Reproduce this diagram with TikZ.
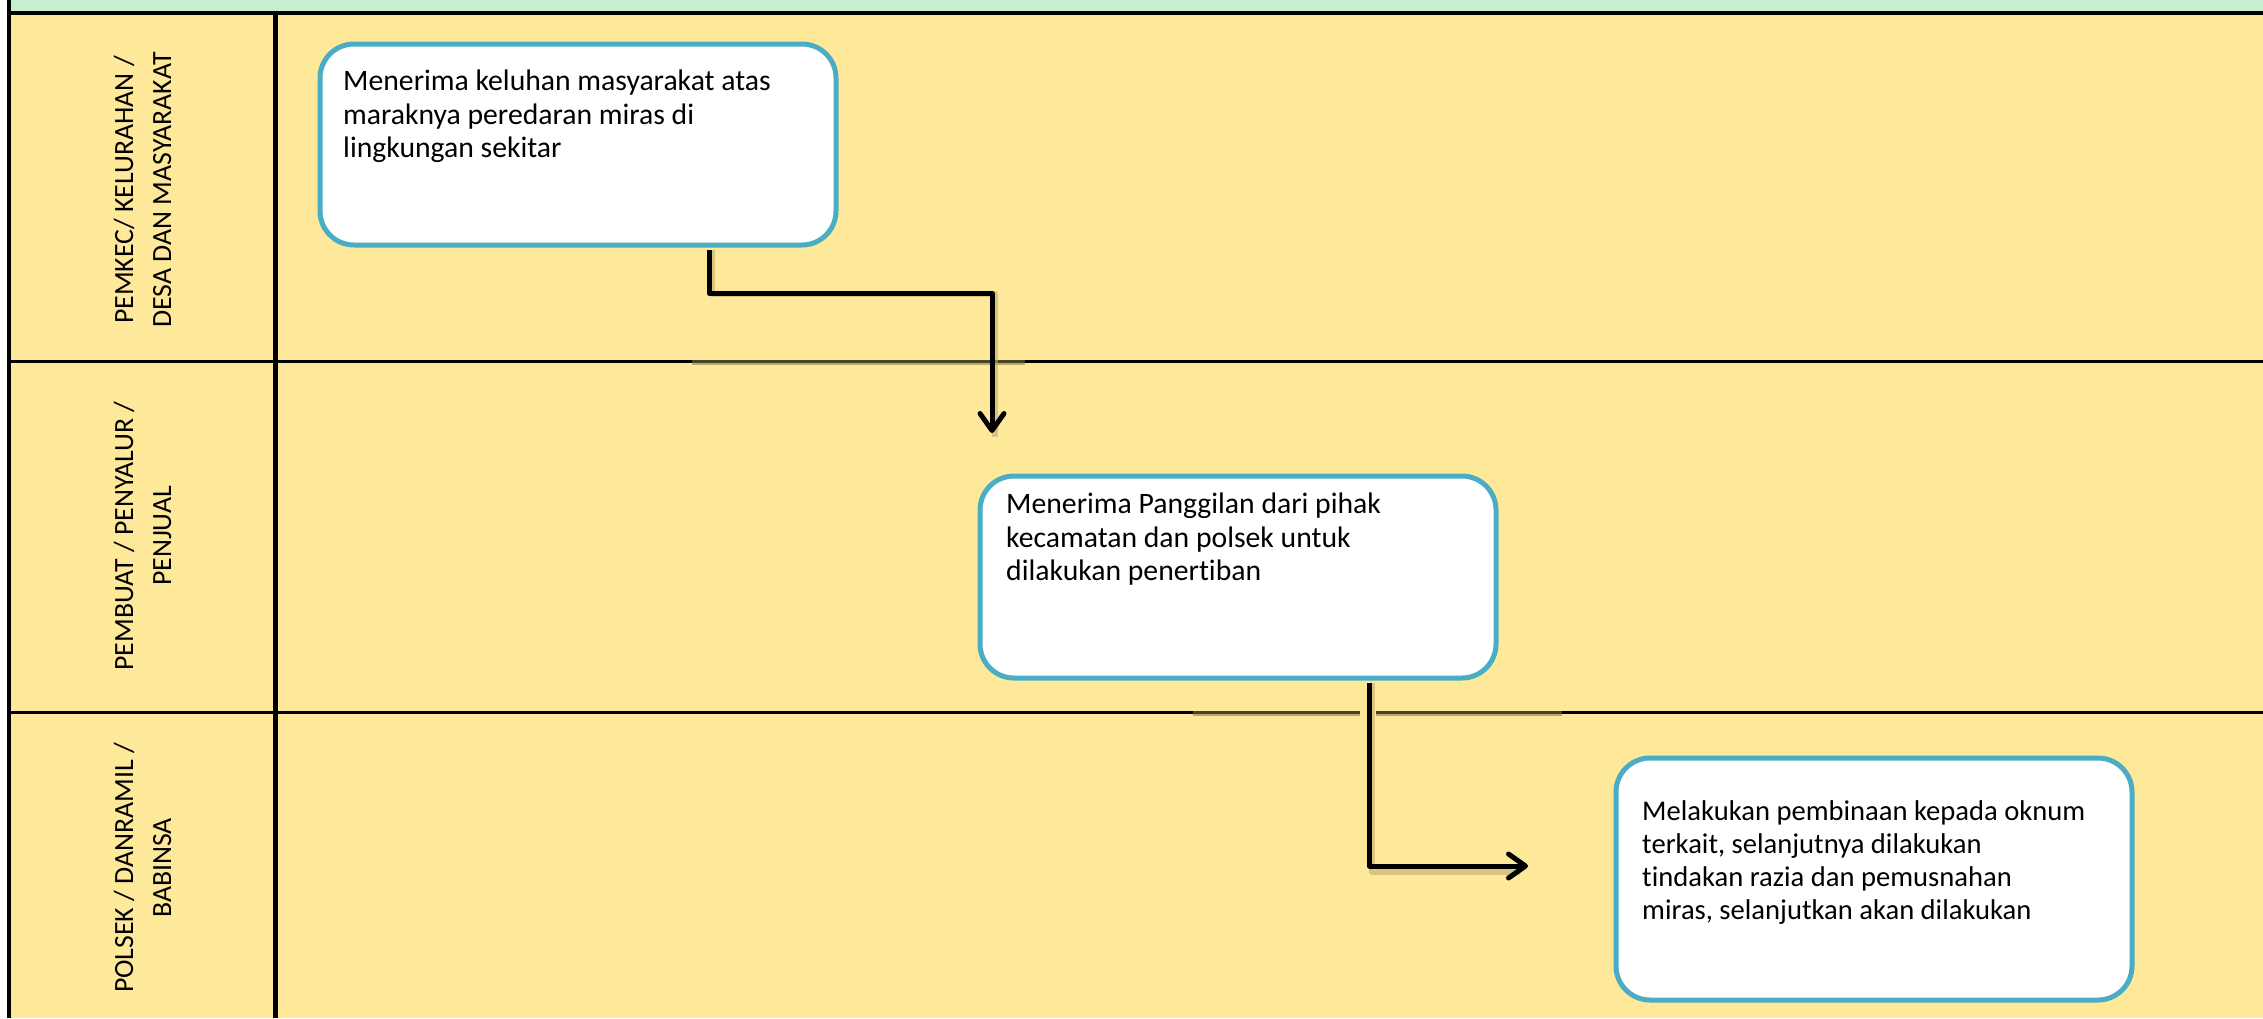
\documentclass[tikz,border=0pt]{standalone}
\usepackage{fontspec}
\setmainfont{Carlito}[Ligatures=NoCommon]
\usetikzlibrary{arrows.meta}
\definecolor{laneyellow}{HTML}{FEE99B}
\definecolor{topgreen}{HTML}{C6EFCE}
\definecolor{boxblue}{HTML}{4BACC6}
\definecolor{shadowc}{HTML}{BBA96A}
\definecolor{segc}{HTML}{4A4326}
\tikzset{
  procbox/.style={draw=boxblue, line width=5pt, fill=white, rounded corners=34pt,
    minimum width=516pt, inner sep=0pt, anchor=north west},
  boxtext/.style={anchor=north west, inner sep=0pt, align=left,
    font=\fontsize{29.7}{33.3}\selectfont},
  lanelabel/.style={rotate=90, align=center, inner sep=0pt,
    font=\fontsize{27.8}{38}\selectfont},
  flowarrow/.style={line width=5pt, line join=round,
    -{Straight Barb[length=17pt,width=24pt,round]}},
  flowshadow/.style={shadowc, opacity=0.55, line width=6pt, line join=round},
  laneline/.style={line width=3pt},
  segline/.style={segc, line width=3pt},
}
\begin{document}
\begin{tikzpicture}[x=1pt,y=-1pt]
\useasboundingbox (0,0) rectangle (2263,1018);
\fill[white] (0,0) rectangle (2263,1018);
\fill[laneyellow] (9,13) rectangle (2263,1018);
\fill[topgreen] (9,0) rectangle (2263,11);
% frame lines
\draw[line width=4pt] (7,13) -- (2263,13);
\draw[line width=4.5pt] (9,0) -- (9,1018);
\draw[line width=5.5pt] (275.5,13) -- (275.5,1018);
\draw[laneline] (9,361.5) -- (2263,361.5);
\draw[laneline] (9,712) -- (2263,712);
% shadowed segments of lane lines
\draw[laneyellow, line width=4pt] (692,361.5) -- (1025,361.5);
\draw[shadowc, line width=2pt] (692,364) -- (1025,364);
\draw[segline] (692,361.5) -- (1025,361.5);
\draw[laneyellow, line width=4pt] (1193,712) -- (1562,712);
\draw[shadowc, line width=2pt] (1193,714.5) -- (1360,714.5);
\draw[shadowc, line width=2pt] (1376,714.5) -- (1562,714.5);
\draw[segline] (1193,712) -- (1360,712);
\draw[segline] (1376,712) -- (1562,712);
% lane labels
\node[lanelabel] (l1) at (142.5,190) {PEMKEC/ KELURAHAN /\\DESA DAN MASYARAKAT};
\node[lanelabel] (l2) at (142.5,536) {PEMBUAT / PENYALUR /\\PENJUAL};
\node[lanelabel] (l3) at (142.5,868) {POLSEK / DANRAMIL /\\BABINSA};
% process boxes
\node[procbox, minimum height=201pt] (b1) at (317.5,41.5) {};
\node[procbox, minimum height=202pt] (b2) at (977.5,473.5) {};
\node[procbox, minimum height=242pt] (b3) at (1613.5,755.5) {};
\node[boxtext] (b1t) at (343,70) {Menerima keluhan masyarakat atas\\maraknya peredaran miras di\\lingkungan sekitar};
\node[boxtext] (b2t) at (1006,493) {Menerima Panggilan dari pihak\\kecamatan dan polsek untuk\\dilakukan penertiban};
\node[boxtext, font=\fontsize{28.6}{33.3}\selectfont] (b3t) at (1642,800) {Melakukan pembinaan kepada oknum\\terkait, selanjutnya dilakukan\\tindakan razia dan pemusnahan\\miras, selanjutkan akan dilakukan};
% arrow end points
\coordinate (t1) at (992,433);
\coordinate (t2) at (1528,866);
% arrows with shadows
\draw[flowshadow] ([xshift=134pt,yshift=-2pt]b1.south) -- ++(0,44) -| ([xshift=3pt,yshift=-4pt]t1);
\draw[flowarrow] ([xshift=131.5pt,yshift=-2pt]b1.south) -- ++(0,44) -| (t1);
\draw[flowshadow] ([xshift=134pt,yshift=-2pt]b2.south) |- ([xshift=-8pt,yshift=-6pt]t2);
\draw[flowarrow] ([xshift=131.5pt,yshift=-2pt]b2.south) |- (t2);
\end{tikzpicture}
\end{document}
